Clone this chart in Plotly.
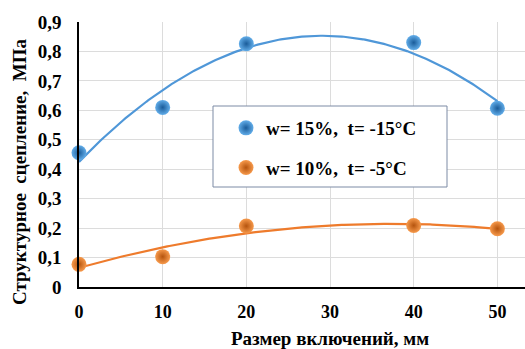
import numpy as np
import plotly.graph_objects as go

sizes = [0, 10, 20, 40, 50]
blue_vals = [0.456, 0.61, 0.826, 0.83, 0.607]
orange_vals = [0.077, 0.103, 0.207, 0.209, 0.198]
x_ticks = [0, 10, 20, 30, 40, 50]
y_ticks = [0, 0.1, 0.2, 0.3, 0.4, 0.5, 0.6, 0.7, 0.8, 0.9]
y_tick_text = ["0", "0,1", "0,2", "0,3", "0,4", "0,5", "0,6", "0,7", "0,8", "0,9"]
blue_name = "w= 15%,  t= -15°C"
orange_name = "w= 10%,  t= -5°C"

W, H = 525, 349
L, R, T, B = 79, 0, 22, 62
pw, ph = W - L - R, H - T - B

def px_x(p):
    return (p - L) / pw

def px_y(p):
    return (H - B - p) / ph

FONT = "Liberation Serif"
BLUE_LINE = "#4f97d8"
ORANGE_LINE = "#ee7b2c"

fig = go.Figure()
xs = np.linspace(0, 50, 200)
for vals, col in [(blue_vals, BLUE_LINE), (orange_vals, ORANGE_LINE)]:
    c = np.polyfit(sizes, vals, 2)
    fig.add_trace(go.Scatter(x=xs, y=np.polyval(c, xs), mode="lines",
                             line=dict(color=col, width=2.2), showlegend=False,
                             hoverinfo="skip", cliponaxis=False))

fig.add_trace(go.Scatter(x=sizes, y=blue_vals, mode="markers", name=blue_name,
                         legendgroup="a", cliponaxis=False,
                         marker=dict(size=15, color="#62ade9",
                                     gradient=dict(type="radial", color="#1a5c9a"),
                                     line=dict(width=0))))
fig.add_trace(go.Scatter(x=sizes, y=orange_vals, mode="markers", name=orange_name,
                         legendgroup="b", cliponaxis=False,
                         marker=dict(size=15, color="#f79a4c",
                                     gradient=dict(type="radial", color="#b5540e"),
                                     line=dict(width=0))))

fig.add_shape(type="rect", xref="paper", yref="paper",
              x0=px_x(213), x1=px_x(447), y0=px_y(187), y1=px_y(106),
              line=dict(color="#7d8ba5", width=1), fillcolor="white", layer="above")

fig.add_annotation(text="<b>Размер включений, мм</b>", xref="paper", yref="paper",
                   x=px_x(330), y=px_y(338), xanchor="center", yanchor="middle",
                   showarrow=False,
                   font=dict(family=FONT, size=19, color="black"))
fig.add_annotation(text="<b>Структурное  сцепление,  МПа</b>", xref="paper", yref="paper",
                   x=px_x(19), y=px_y(172), xanchor="center", yanchor="middle",
                   showarrow=False, textangle=-90,
                   font=dict(family=FONT, size=19, color="black"))

fig.update_layout(
    width=W, height=H,
    margin=dict(l=L, r=R, t=T, b=B, pad=0),
    paper_bgcolor="white", plot_bgcolor="white",
    font=dict(family=FONT, color="black"),
    legend=dict(x=px_x(226), y=px_y(109), xanchor="left", yanchor="top",
                bgcolor="rgba(0,0,0,0)", borderwidth=0,
                font=dict(family=FONT, size=19, color="black", weight="bold"),
                tracegroupgap=12, traceorder="grouped"),
    xaxis=dict(range=[0, 53.3], tickvals=x_ticks, ticktext=[str(v) for v in x_ticks],
               showgrid=True, gridcolor="#dcdcdc", gridwidth=1,
               showline=True, linecolor="black", linewidth=1.5, zeroline=False,
               ticks="", ticklabelstandoff=8,
               tickfont=dict(family=FONT, size=18, color="black", weight="bold")),
    yaxis=dict(range=[0, 0.9], tickvals=y_ticks, ticktext=y_tick_text,
               showgrid=True, gridcolor="#dcdcdc", gridwidth=1,
               showline=True, linecolor="black", linewidth=1.5, zeroline=False,
               ticks="", ticklabelstandoff=12,
               tickfont=dict(family=FONT, size=19, color="black", weight="bold")),
)

fig.write_html("out.html")
